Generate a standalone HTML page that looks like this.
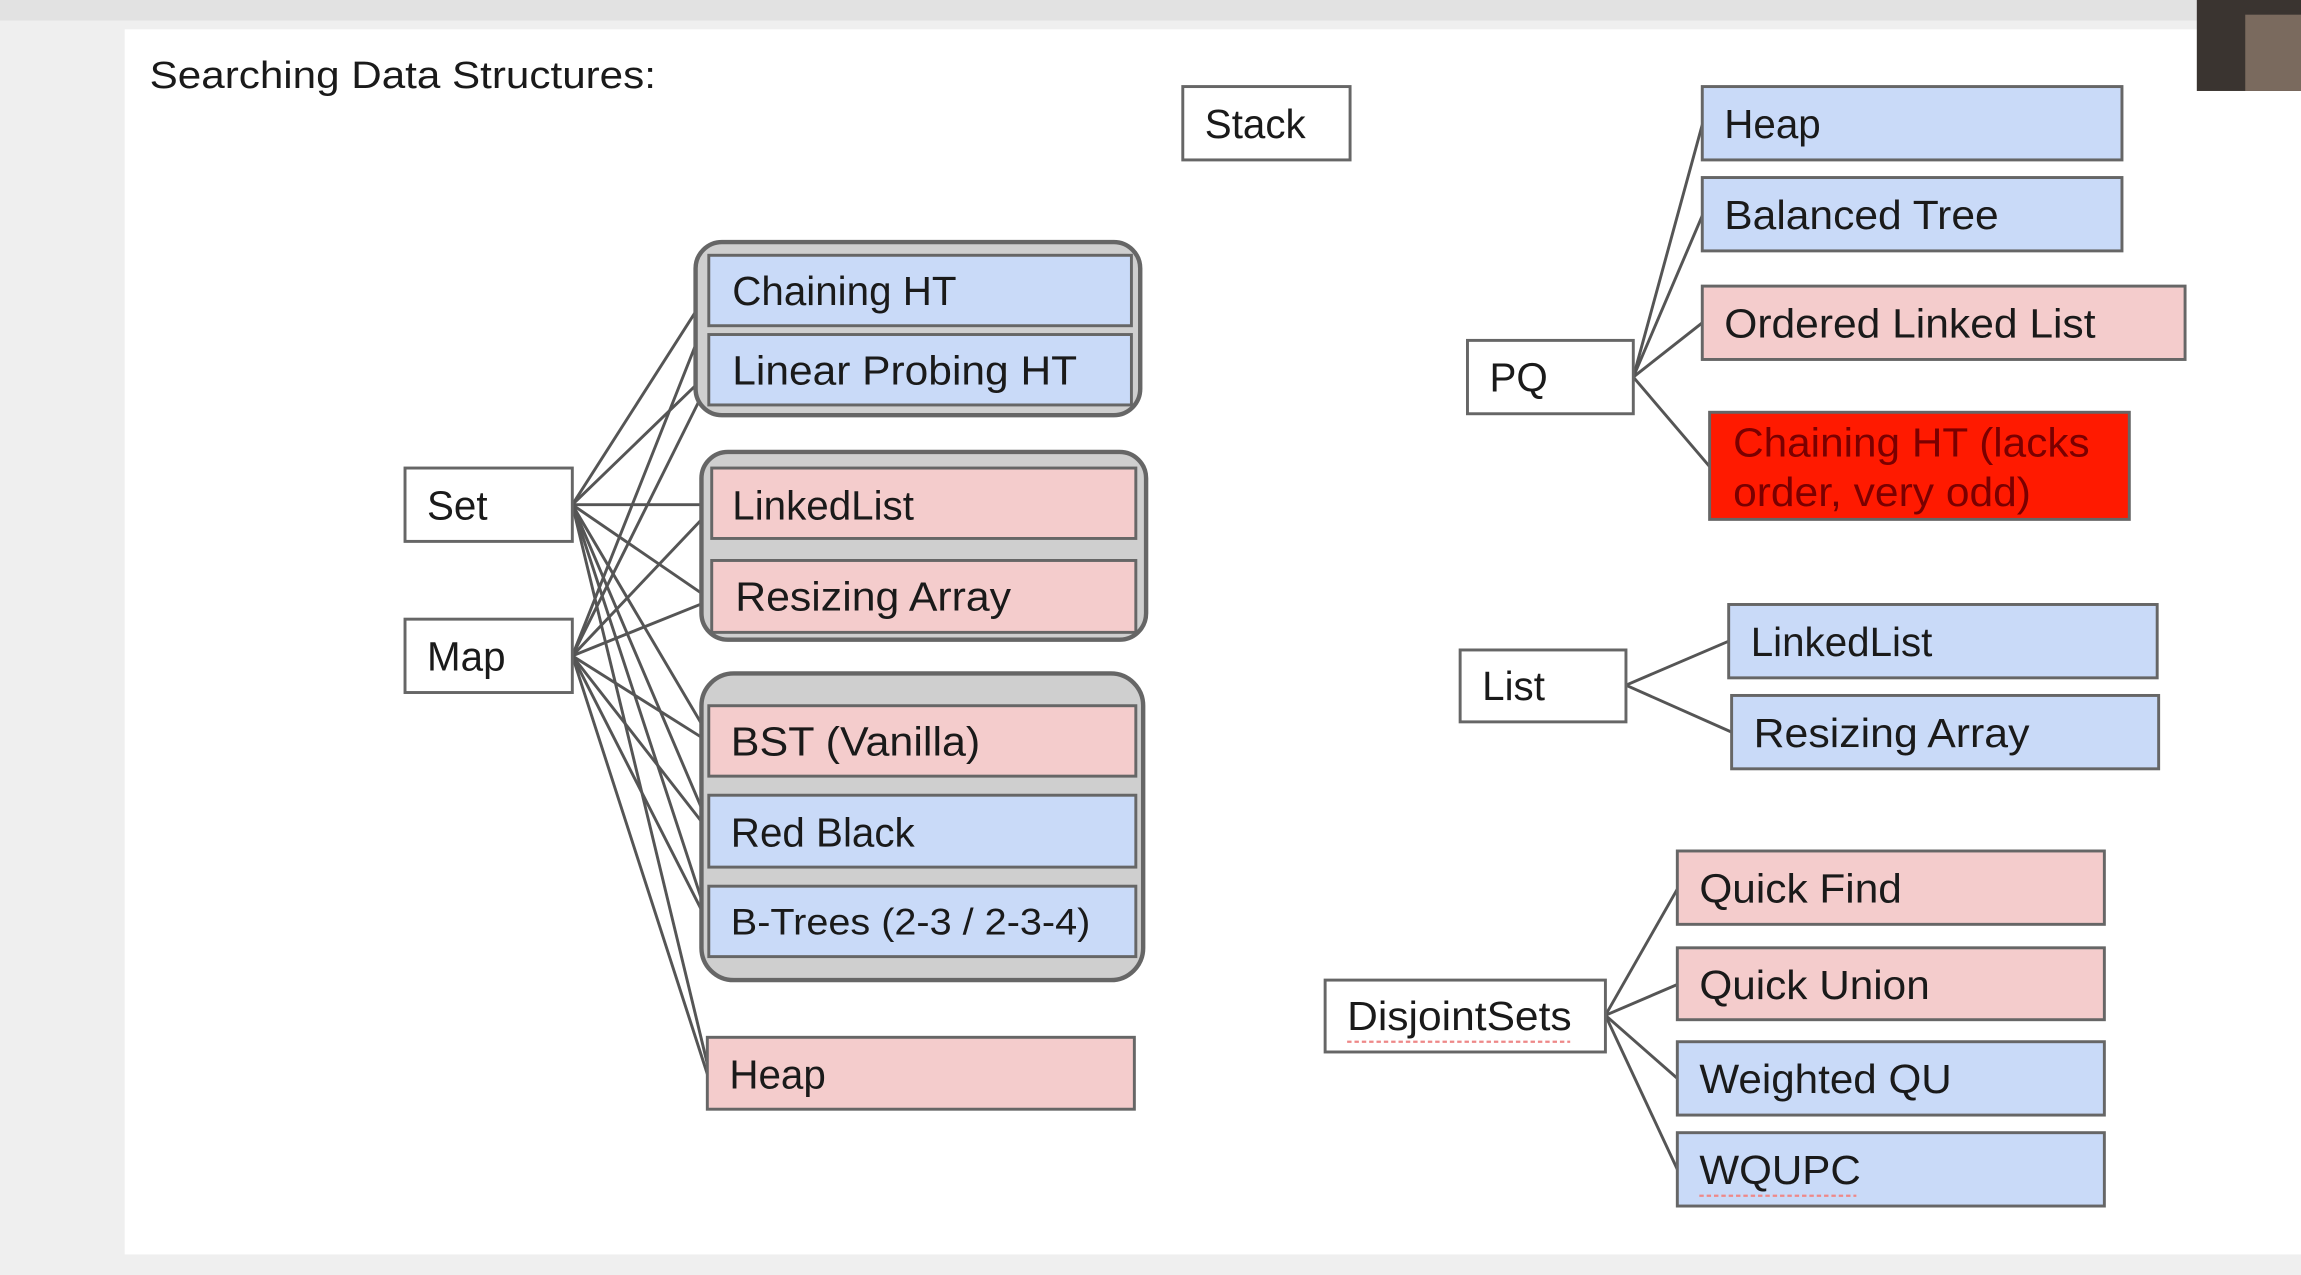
<!DOCTYPE html>
<html><head><meta charset="utf-8"><style>
html,body{margin:0;padding:0;background:#f0f0f0;overflow:hidden}
svg{display:block}
text{font-family:"Liberation Sans",Arial,sans-serif;font-size:27.5px;fill:#1a1a1a}
</style></head><body>
<svg width="2301" height="1275" viewBox="0 0 1568 869" preserveAspectRatio="none">
<rect x="0" y="0" width="1568" height="869" fill="#efefef"/>
<rect x="0" y="0" width="1568" height="14" fill="#e2e2e2"/>
<rect x="85" y="20" width="1483" height="835" fill="#ffffff"/>
<rect x="1497" y="0" width="71" height="62" fill="#3a3430"/>
<rect x="1530" y="10" width="38" height="52" fill="#7a6a5e"/>
<text x="102" y="60" style="font-size:26px" textLength="345" lengthAdjust="spacingAndGlyphs">Searching Data Structures:</text>

<g stroke="#555" stroke-width="2" fill="none">
<line x1="390" y1="344" x2="482" y2="200"/>
<line x1="390" y1="344" x2="482" y2="255"/>
<line x1="390" y1="344" x2="482" y2="344"/>
<line x1="390" y1="344" x2="482" y2="407"/>
<line x1="390" y1="344" x2="482" y2="500"/>
<line x1="390" y1="344" x2="482" y2="560"/>
<line x1="390" y1="344" x2="482" y2="625"/>
<line x1="390" y1="344" x2="482" y2="725"/>
<line x1="390" y1="447" x2="482" y2="215"/>
<line x1="390" y1="447" x2="482" y2="262"/>
<line x1="390" y1="447" x2="482" y2="350"/>
<line x1="390" y1="447" x2="482" y2="410"/>
<line x1="390" y1="447" x2="482" y2="505"/>
<line x1="390" y1="447" x2="482" y2="565"/>
<line x1="390" y1="447" x2="482" y2="628"/>
<line x1="390" y1="447" x2="482" y2="732"/>
<line x1="1113" y1="257" x2="1160" y2="85"/>
<line x1="1113" y1="257" x2="1160" y2="147"/>
<line x1="1113" y1="257" x2="1160" y2="220"/>
<line x1="1113" y1="257" x2="1165" y2="318"/>
<line x1="1108" y1="467" x2="1178" y2="437"/>
<line x1="1108" y1="467" x2="1180" y2="499"/>
<line x1="1094" y1="692" x2="1143" y2="606"/>
<line x1="1094" y1="692" x2="1143" y2="671"/>
<line x1="1094" y1="692" x2="1143" y2="735"/>
<line x1="1094" y1="692" x2="1143" y2="797"/>
</g>

<g stroke="#666" stroke-width="3">
<rect x="474" y="165" width="303" height="118" rx="18" fill="#cfcfcf"/>
<rect x="478" y="308" width="303" height="128" rx="18" fill="#cfcfcf"/>
<rect x="478" y="459" width="301" height="209" rx="22" fill="#cfcfcf"/>
</g>

<g stroke="#666" stroke-width="2">
<rect x="806" y="59" width="114" height="50" fill="#fff"/>
<rect x="276" y="319" width="114" height="50" fill="#fff"/>
<rect x="276" y="422" width="114" height="50" fill="#fff"/>
<rect x="1000" y="232" width="113" height="50" fill="#fff"/>
<rect x="995" y="443" width="113" height="49" fill="#fff"/>
<rect x="903" y="668" width="191" height="49" fill="#fff"/>

<rect x="483" y="174" width="288" height="48" fill="#c9daf8"/>
<rect x="483" y="228" width="288" height="48" fill="#c9daf8"/>
<rect x="485" y="319" width="289" height="48" fill="#f4cccc"/>
<rect x="485" y="382" width="289" height="49" fill="#f4cccc"/>
<rect x="483" y="481" width="291" height="48" fill="#f4cccc"/>
<rect x="483" y="542" width="291" height="49" fill="#c9daf8"/>
<rect x="483" y="604" width="291" height="48" fill="#c9daf8"/>
<rect x="482" y="707" width="291" height="49" fill="#f4cccc"/>

<rect x="1160" y="59" width="286" height="50" fill="#c9daf8"/>
<rect x="1160" y="121" width="286" height="50" fill="#c9daf8"/>
<rect x="1160" y="195" width="329" height="50" fill="#f4cccc"/>
<rect x="1165" y="281" width="286" height="73" fill="#ff1a00"/>
<rect x="1178" y="412" width="292" height="50" fill="#c9daf8"/>
<rect x="1180" y="474" width="291" height="50" fill="#c9daf8"/>
<rect x="1143" y="580" width="291" height="50" fill="#f4cccc"/>
<rect x="1143" y="646" width="291" height="49" fill="#f4cccc"/>
<rect x="1143" y="710" width="291" height="50" fill="#c9daf8"/>
<rect x="1143" y="772" width="291" height="50" fill="#c9daf8"/>
</g>

<text x="821" y="94">Stack</text>
<text x="291" y="354">Set</text>
<text x="291" y="457">Map</text>
<text x="1015" y="267">PQ</text>
<text x="1010" y="477">List</text>
<text x="918" y="702" textLength="153" lengthAdjust="spacingAndGlyphs">DisjointSets</text>
<line x1="918" y1="710" x2="1070" y2="710" stroke="#e88" stroke-width="1.5" stroke-dasharray="3,2"/>

<text x="499" y="208">Chaining HT</text>
<text x="499" y="262" textLength="235" lengthAdjust="spacingAndGlyphs">Linear Probing HT</text>
<text x="499" y="354">LinkedList</text>
<text x="501" y="416" textLength="188" lengthAdjust="spacingAndGlyphs">Resizing Array</text>
<text x="498" y="515" textLength="170" lengthAdjust="spacingAndGlyphs">BST (Vanilla)</text>
<text x="498" y="577">Red Black</text>
<text x="498" y="637" style="font-size:25px" textLength="245" lengthAdjust="spacingAndGlyphs">B-Trees (2-3 / 2-3-4)</text>
<text x="497" y="742">Heap</text>

<text x="1175" y="94">Heap</text>
<text x="1175" y="156" textLength="187" lengthAdjust="spacingAndGlyphs">Balanced Tree</text>
<text x="1175" y="230" textLength="253" lengthAdjust="spacingAndGlyphs">Ordered Linked List</text>
<text x="1181" y="311" style="fill:#7a0000" textLength="243" lengthAdjust="spacingAndGlyphs">Chaining HT (lacks</text>
<text x="1181" y="345" style="fill:#7a0000" textLength="203" lengthAdjust="spacingAndGlyphs">order, very odd)</text>
<text x="1193" y="447">LinkedList</text>
<text x="1195" y="509" textLength="188" lengthAdjust="spacingAndGlyphs">Resizing Array</text>
<text x="1158" y="615" textLength="138" lengthAdjust="spacingAndGlyphs">Quick Find</text>
<text x="1158" y="681" textLength="157" lengthAdjust="spacingAndGlyphs">Quick Union</text>
<text x="1158" y="745" textLength="172" lengthAdjust="spacingAndGlyphs">Weighted QU</text>
<text x="1158" y="807" textLength="110" lengthAdjust="spacingAndGlyphs">WQUPC</text>
<line x1="1158" y1="815" x2="1265" y2="815" stroke="#e88" stroke-width="1.5" stroke-dasharray="3,2"/>
</svg>
</body></html>
